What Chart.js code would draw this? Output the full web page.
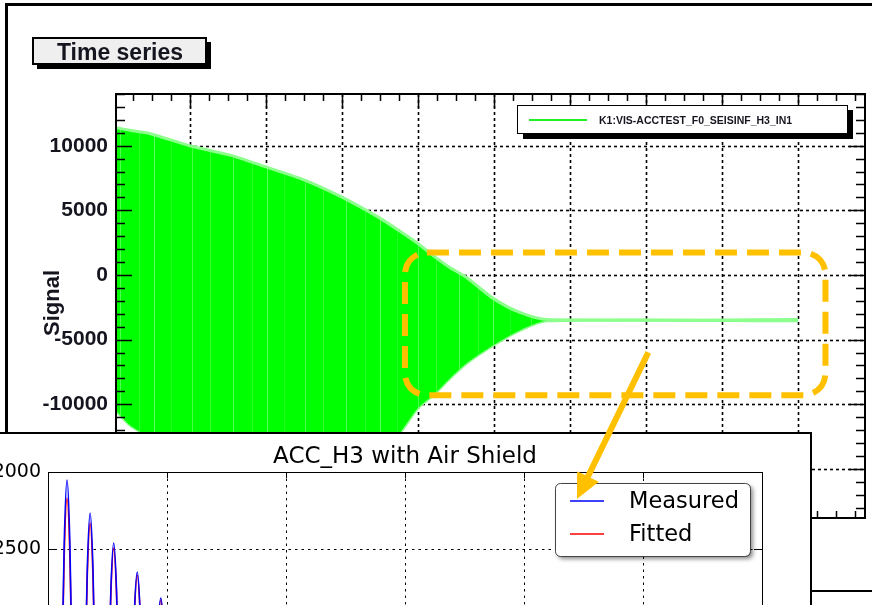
<!DOCTYPE html>
<html>
<head>
<meta charset="utf-8">
<script src="https://cdn.jsdelivr.net/npm/chart.js@4.4.0/dist/chart.umd.min.js"></script>
<style>
  html, body { margin: 0; padding: 0; background: #fff; overflow: hidden; width: 872px; height: 605px; }
  #wrap { position: relative; width: 872px; height: 605px; overflow: hidden; background: #fff; }
  #main { position: absolute; left: 0; top: 0; }
  #inset { position: absolute; left: -70px; top: 432px; width: 880px; height: 600px;
           border-top: 2px solid #000; border-right: 2px solid #000; background: #fff; }
  #inset canvas { display: block; }
  #overlay { position: absolute; left: 0; top: 0; pointer-events: none; }
</style>
</head>
<body>
<div id="wrap">
  <canvas id="main" width="872" height="605"></canvas>
  <div id="inset"><canvas id="insetCanvas" width="880" height="560"></canvas></div>
  <canvas id="overlay" width="872" height="605"></canvas>
</div>
<script>
// ---------- Time series panel: envelope of the seismometer channel ----------
const seriesName = 'K1:VIS-ACCTEST_F0_SEISINF_H3_IN1';
const sigTime  = [0.03, 0.21, 0.47, 1.00, 1.53, 2.01, 2.51, 3.00, 3.50, 3.76, 4.00, 4.20, 4.42, 4.64, 4.99, 5.34, 5.70, 9.00];
const sigUpper = [11400, 11200, 10950, 10000, 9270, 8340, 7340, 6020, 4400, 3400, 2430, 1500, 580, -190, -1810, -2900, -3450, -3450];
const sigLower = [-10500, -11600, -12600, -15500, -17000, -17500, -17000, -16000, -13800, -12240, -10300, -9300, -8000, -6830, -5440, -4290, -3550, -3550];
const xMajorTicks = [1, 2, 3, 4, 5, 6, 7, 8, 9];
const yMajorTicks = [-15000, -10000, -5000, 0, 5000, 10000];

// ---------- ACC_H3 with Air Shield: measured vs fitted ----------
const accTime = [0.05, 0.31, 0.55, 0.68, 0.80, 0.92, 1.05, 1.29, 1.52, 1.65, 1.77, 1.89, 2.02, 2.27, 2.51, 2.64, 2.76, 2.88, 3.01, 3.26,
                 3.50, 3.63, 3.75, 3.87, 4.00, 4.25, 4.49, 4.62, 4.74, 4.86, 4.99, 5.24, 5.48, 5.61, 5.73, 5.85, 5.98, 6.23, 6.47, 6.60,
                 6.72, 6.84, 6.97, 7.22, 7.46, 7.59, 7.71, 7.83, 7.96, 8.21];
const accMeasured = [-3700, -5150, -3600, -2470, -2052, -2470, -3600, -4930, -3600, -2630, -2266, -2630, -3600, -4740, -3600, -2770, -2461, -2770, -3600, -4550,
                     -3600, -2910, -2649, -2910, -3600, -4380, -3600, -3030, -2818, -3030, -3600, -4240, -3600, -3130, -2960, -3130, -3600, -4120, -3600, -3210,
                     -3070, -3210, -3600, -4020, -3600, -3280, -3160, -3280, -3600, -3940];
const accFitted = [-3650, -5030, -3600, -2550, -2169, -2550, -3600, -4870, -3600, -2680, -2331, -2680, -3600, -4710, -3600, -2800, -2494, -2800, -3600, -4530,
                   -3600, -2920, -2669, -2920, -3600, -4370, -3600, -3040, -2831, -3040, -3600, -4230, -3600, -3140, -2970, -3140, -3600, -4110, -3600, -3220,
                   -3080, -3220, -3600, -4020, -3600, -3290, -3165, -3290, -3600, -3950];
const accXTicks = [0, 5, 10, 15, 20, 25, 30];
const accYTicks = [-5000, -4500, -4000, -3500, -3000, -2500, -2000];

// highlighted region of the time series and where the arrow leaves it
const zoomBox = { x0: 3.83, x1: 9.36, yTop: 1740, yBottom: -9300 };
const arrowStart = { x: 7.03, y: -5985 };

const ORANGE = '#FFC000';
const ROOT_FONT = 'Liberation Sans, Arial, sans-serif';
const MPL_FONT = 'DejaVu Sans, sans-serif';

// fill texture: the dense oscillation shows as solid green with a few faint pale streaks
function makeSignalPattern() {
  const w = 113, h = 4;
  const tile = document.createElement('canvas');
  tile.width = w; tile.height = h;
  const t = tile.getContext('2d');
  t.fillStyle = '#00ff00';
  t.fillRect(0, 0, w, h);
  [[7, 0.35], [26, 0.18], [41, 0.4], [58, 0.15], [79, 0.3], [97, 0.22]].forEach(([px, alpha]) => {
    t.fillStyle = 'rgba(230,255,230,' + alpha + ')';
    t.fillRect(px, 0, 1, h);
  });
  return t.createPattern(tile, 'repeat');
}

// ROOT-style frame, dashed grid, inward ticks, legend and title pave
const rootPlot = {
  id: 'rootPlot',
  beforeDatasetsDraw(chart) {
    const { ctx, chartArea: a, scales: { x, y } } = chart;
    ctx.save();
    ctx.strokeStyle = '#000';
    ctx.lineWidth = 1.6;
    ctx.setLineDash([3, 3]);
    xMajorTicks.forEach(v => {
      const px = Math.round(x.getPixelForValue(v)) + 0.5;
      ctx.beginPath(); ctx.moveTo(px, a.top); ctx.lineTo(px, a.bottom); ctx.stroke();
    });
    yMajorTicks.forEach(v => {
      const py = Math.round(y.getPixelForValue(v)) + 0.5;
      ctx.beginPath(); ctx.moveTo(a.left, py); ctx.lineTo(a.right, py); ctx.stroke();
    });
    ctx.restore();
  },
  afterDatasetsDraw(chart) {
    const { ctx, chartArea: a, scales: { x, y } } = chart;
    ctx.save();
    // highlighted region
    const bx0 = x.getPixelForValue(zoomBox.x0), bx1 = x.getPixelForValue(zoomBox.x1);
    const by0 = y.getPixelForValue(zoomBox.yTop), by1 = y.getPixelForValue(zoomBox.yBottom);
    ctx.strokeStyle = ORANGE;
    ctx.lineWidth = 6;
    ctx.setLineDash([22, 10]);
    ctx.beginPath();
    ctx.roundRect(bx0, by0, bx1 - bx0, by1 - by0, 22);
    ctx.stroke();
    ctx.setLineDash([]);

    // frame
    ctx.strokeStyle = '#000';
    ctx.lineWidth = 2;
    ctx.strokeRect(a.left, a.top, a.right - a.left, a.bottom - a.top);

    // ticks
    ctx.lineWidth = 1.5;
    ctx.beginPath();
    for (let v = 0.25; v < x.max; v += 0.25) {
      if (v < x.min) continue;
      const px = Math.round(x.getPixelForValue(v)) + 0.5;
      const len = Math.abs(v - Math.round(v)) < 1e-6 ? 14 : 7;
      ctx.moveTo(px, a.top); ctx.lineTo(px, a.top + len);
      ctx.moveTo(px, a.bottom); ctx.lineTo(px, a.bottom - len);
    }
    for (let v = -18000; v <= 14000; v += 1000) {
      const py = Math.round(y.getPixelForValue(v)) + 0.5;
      const len = v % 5000 === 0 ? 16 : 9;
      ctx.moveTo(a.left, py); ctx.lineTo(a.left + len, py);
      ctx.moveTo(a.right, py); ctx.lineTo(a.right - len, py);
    }
    ctx.stroke();
    ctx.restore();
  },
  afterDraw(chart) {
    const { ctx } = chart;
    ctx.save();
    // canvas frame
    ctx.strokeStyle = '#000';
    ctx.lineWidth = 3;
    ctx.beginPath();
    ctx.moveTo(6.5, 605); ctx.lineTo(6.5, 4.5); ctx.lineTo(872, 4.5);
    ctx.stroke();
    ctx.lineWidth = 2;
    ctx.beginPath(); ctx.moveTo(810, 591); ctx.lineTo(872, 591); ctx.stroke();

    // title pave
    ctx.fillStyle = '#000';
    ctx.fillRect(37, 42, 174, 27);
    ctx.fillStyle = '#efefef';
    ctx.fillRect(33, 38, 173, 26);
    ctx.lineWidth = 2;
    ctx.strokeRect(33, 38, 173, 26);
    ctx.fillStyle = '#15151f';
    ctx.font = 'bold 23px ' + ROOT_FONT;
    ctx.textAlign = 'center';
    ctx.textBaseline = 'alphabetic';
    ctx.fillText('Time series', 120, 60);

    // y-axis title
    ctx.save();
    ctx.translate(53, 303);
    ctx.rotate(-Math.PI / 2);
    ctx.font = 'bold 22px ' + ROOT_FONT;
    ctx.textBaseline = 'middle';
    ctx.fillText('Signal', 0, 0);
    ctx.restore();

    // legend
    const ds = chart.data.datasets[0];
    ctx.fillStyle = '#000';
    ctx.fillRect(523, 110, 330, 29);
    ctx.fillStyle = '#fff';
    ctx.fillRect(517, 105, 330, 28);
    ctx.lineWidth = 1;
    ctx.strokeStyle = '#000';
    ctx.strokeRect(517.5, 105.5, 330, 28);
    ctx.strokeStyle = '#22ee22';
    ctx.lineWidth = 2;
    ctx.beginPath(); ctx.moveTo(529, 120); ctx.lineTo(587, 120); ctx.stroke();
    ctx.fillStyle = '#15151f';
    ctx.font = 'bold 10.5px ' + ROOT_FONT;
    ctx.textAlign = 'left';
    ctx.textBaseline = 'middle';
    ctx.fillText(ds.label, 599, 121);
    ctx.restore();
  }
};

const mainChart = new Chart(document.getElementById('main'), {
  type: 'line',
  data: {
    datasets: [
      {
        label: seriesName,
        data: sigTime.map((t, i) => ({ x: t, y: sigUpper[i] })),
        borderColor: 'rgb(140,255,140)',
        borderWidth: 3,
        backgroundColor: makeSignalPattern(),
        fill: '+1',
        pointRadius: 0,
        tension: 0.25
      },
      {
        label: seriesName + ' min',
        data: sigTime.map((t, i) => ({ x: t, y: sigLower[i] })),
        borderColor: 'rgb(140,255,140)',
        borderWidth: 3,
        fill: false,
        pointRadius: 0,
        tension: 0.25
      }
    ]
  },
  options: {
    responsive: false,
    animation: false,
    devicePixelRatio: 1,
    layout: { padding: { top: 94, right: 7, left: 0, bottom: 0 } },
    plugins: { legend: { display: false }, title: { display: false }, tooltip: { enabled: false } },
    scales: {
      x: {
        type: 'linear', min: 0.03, max: 9.88,
        afterBuildTicks: s => { s.ticks = xMajorTicks.map(v => ({ value: v })); },
        afterFit: s => { s.height = 87; },
        grid: { display: false, drawTicks: false },
        border: { display: false },
        ticks: { display: false }
      },
      y: {
        type: 'linear', min: -18800, max: 14000,
        afterBuildTicks: s => { s.ticks = yMajorTicks.map(v => ({ value: v })); },
        afterFit: s => { s.width = 116; },
        grid: { display: false, drawTicks: false },
        border: { display: false },
        ticks: {
          padding: 8,
          color: '#15151f',
          font: { family: ROOT_FONT, weight: 'bold', size: 21 },
          callback: v => String(v)
        }
      }
    }
  },
  plugins: [rootPlot]
});

// matplotlib-style axes for the inset
const mplAxes = {
  id: 'mplAxes',
  beforeDatasetsDraw(chart) {
    const { ctx, chartArea: a, scales: { x, y } } = chart;
    ctx.save();
    ctx.strokeStyle = '#000';
    ctx.lineWidth = 1;
    ctx.setLineDash([2.5, 4]);
    accXTicks.forEach(v => {
      const px = Math.round(x.getPixelForValue(v)) + 0.5;
      ctx.beginPath(); ctx.moveTo(px, a.top); ctx.lineTo(px, a.bottom); ctx.stroke();
    });
    accYTicks.forEach(v => {
      const py = Math.round(y.getPixelForValue(v)) + 0.5;
      ctx.beginPath(); ctx.moveTo(a.left, py); ctx.lineTo(a.right, py); ctx.stroke();
    });
    ctx.restore();
  },
  afterDatasetsDraw(chart) {
    const { ctx, chartArea: a, scales: { x, y } } = chart;
    ctx.save();
    ctx.strokeStyle = '#000';
    ctx.lineWidth = 1;
    ctx.strokeRect(Math.round(a.left) + 0.5, Math.round(a.top) + 0.5, a.right - a.left, a.bottom - a.top);
    ctx.beginPath();
    accXTicks.forEach(v => {
      const px = Math.round(x.getPixelForValue(v)) + 0.5;
      ctx.moveTo(px, a.top); ctx.lineTo(px, a.top + 6);
      ctx.moveTo(px, a.bottom); ctx.lineTo(px, a.bottom - 6);
    });
    accYTicks.forEach(v => {
      const py = Math.round(y.getPixelForValue(v)) + 0.5;
      ctx.moveTo(a.left, py); ctx.lineTo(a.left + 8, py);
      ctx.moveTo(a.right, py); ctx.lineTo(a.right - 8, py);
    });
    ctx.stroke();
    ctx.restore();
  },
  afterDraw(chart) {
    const { ctx, chartArea: a } = chart;
    ctx.save();
    // title
    ctx.fillStyle = '#000';
    ctx.font = '23px ' + MPL_FONT;
    ctx.textAlign = 'center';
    ctx.textBaseline = 'alphabetic';
    ctx.fillText('ACC_H3 with Air Shield', (a.left + a.right) / 2, a.top - 9);

    // legend box with shadow
    const lx = 625, ly = 49, lw = 195, lh = 73;
    ctx.save();
    ctx.shadowColor = 'rgba(0,0,0,0.45)';
    ctx.shadowBlur = 4;
    ctx.shadowOffsetX = 3;
    ctx.shadowOffsetY = 3;
    ctx.fillStyle = '#fff';
    ctx.beginPath(); ctx.roundRect(lx, ly, lw, lh, 5); ctx.fill();
    ctx.restore();
    ctx.strokeStyle = '#444';
    ctx.lineWidth = 1;
    ctx.beginPath(); ctx.roundRect(lx + 0.5, ly + 0.5, lw, lh, 5); ctx.stroke();

    ctx.font = '22.5px ' + MPL_FONT;
    ctx.textAlign = 'left';
    ctx.textBaseline = 'middle';
    chart.data.datasets.forEach((ds, i) => {
      const yy = ly + 18 + i * 33;
      ctx.strokeStyle = ds.borderColor;
      ctx.lineWidth = 1.5;
      ctx.beginPath(); ctx.moveTo(lx + 15, yy); ctx.lineTo(lx + 49, yy); ctx.stroke();
      ctx.fillStyle = '#000';
      ctx.fillText(ds.label, lx + 74, yy + 1);
    });
    ctx.restore();
  }
};

const insetChart = new Chart(document.getElementById('insetCanvas'), {
  type: 'line',
  data: {
    datasets: [
      {
        label: 'Measured',
        data: accTime.map((t, i) => ({ x: t, y: accMeasured[i] })),
        borderColor: '#0000ff',
        borderWidth: 1.6,
        pointRadius: 0,
        fill: false,
        cubicInterpolationMode: 'monotone'
      },
      {
        label: 'Fitted',
        data: accTime.map((t, i) => ({ x: t, y: accFitted[i] })),
        borderColor: '#ff0000',
        borderWidth: 1.6,
        pointRadius: 0,
        fill: false,
        cubicInterpolationMode: 'monotone'
      }
    ]
  },
  options: {
    responsive: false,
    animation: false,
    devicePixelRatio: 1,
    layout: { padding: { top: 38, right: 48, left: 0, bottom: 0 } },
    plugins: { legend: { display: false }, title: { display: false }, tooltip: { enabled: false } },
    scales: {
      x: {
        type: 'linear', min: 0, max: 30,
        afterBuildTicks: s => { s.ticks = accXTicks.map(v => ({ value: v })); },
        afterFit: s => { s.height = 60; },
        grid: { display: false, drawTicks: false },
        border: { display: false },
        ticks: { display: false }
      },
      y: {
        type: 'linear', min: -5000, max: -2000,
        afterBuildTicks: s => { s.ticks = accYTicks.map(v => ({ value: v })); },
        afterFit: s => { s.width = 118; },
        grid: { display: false, drawTicks: false },
        border: { display: false },
        ticks: {
          padding: 7,
          color: '#000',
          font: { family: MPL_FONT, size: 19 },
          callback: v => String(v)
        }
      }
    }
  },
  plugins: [mplAxes]
});

// arrow from the highlighted region to the inset legend
(function drawArrow() {
  const ov = document.getElementById('overlay');
  const ctx = ov.getContext('2d');
  const wrapRect = document.getElementById('wrap').getBoundingClientRect();
  const insetRect = document.getElementById('insetCanvas').getBoundingClientRect();
  const offX = insetRect.left - wrapRect.left, offY = insetRect.top - wrapRect.top;
  const sx = mainChart.scales.x.getPixelForValue(arrowStart.x);
  const sy = mainChart.scales.y.getPixelForValue(arrowStart.y);
  // tip rests just on the "Measured" legend sample
  const tx = offX + 625 + 15 + 7, ty = offY + 49 + 18 - 2;
  const dx = tx - sx, dy = ty - sy, len = Math.hypot(dx, dy);
  const ux = dx / len, uy = dy / len;
  const headLen = 25, headHalf = 12;
  const bx = tx - ux * headLen, by = ty - uy * headLen;
  ctx.strokeStyle = ORANGE;
  ctx.fillStyle = ORANGE;
  ctx.lineWidth = 6;
  ctx.beginPath(); ctx.moveTo(sx, sy); ctx.lineTo(bx + ux * 2, by + uy * 2); ctx.stroke();
  ctx.beginPath();
  ctx.moveTo(tx, ty);
  ctx.lineTo(bx - uy * headHalf, by + ux * headHalf);
  ctx.lineTo(bx + uy * headHalf, by - ux * headHalf);
  ctx.closePath();
  ctx.fill();
})();
</script>
</body>
</html>
